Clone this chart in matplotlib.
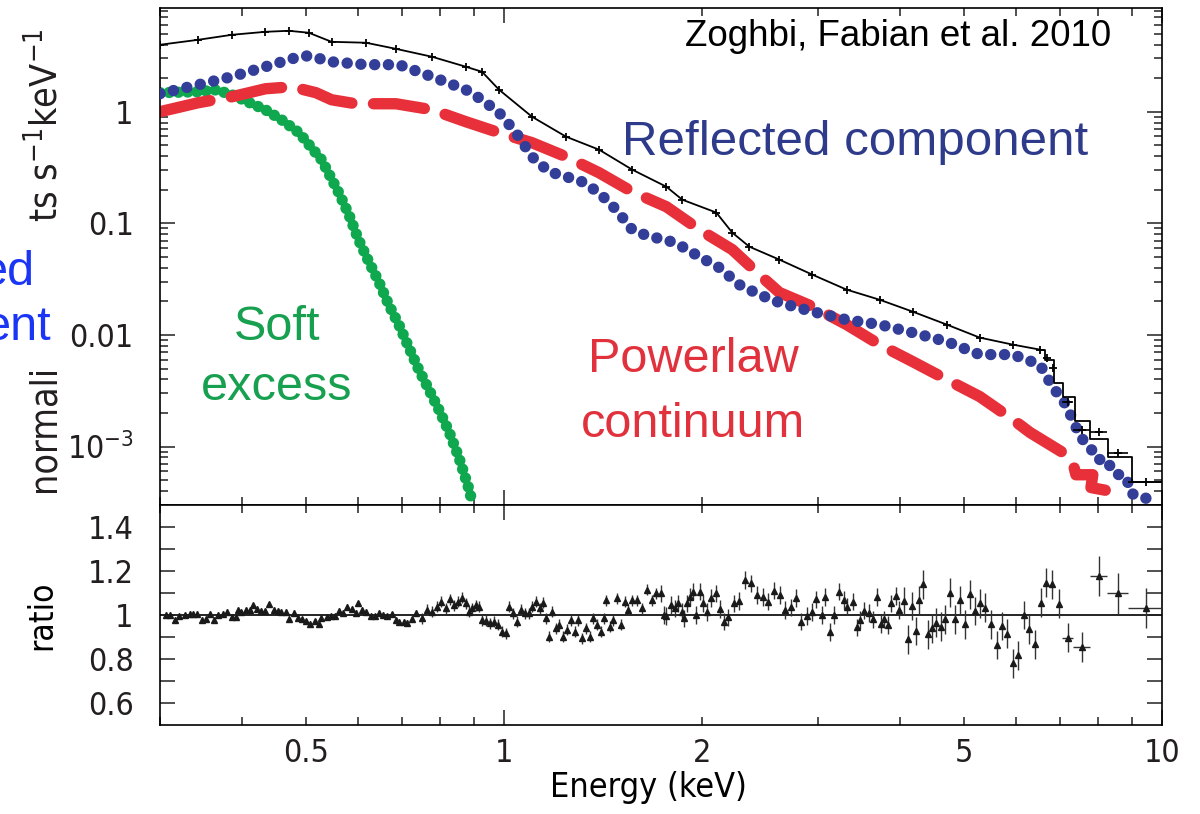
import matplotlib
matplotlib.use("Agg")
from matplotlib import pyplot as plt
from matplotlib.patches import Rectangle
from matplotlib.ticker import FixedLocator, FuncFormatter

plt.rcParams["font.family"] = ["Liberation Sans Narrow", "DejaVu Sans"]
plt.rcParams["font.stretch"] = "condensed"
plt.rcParams["mathtext.default"] = "regular"

# ---- top panel: model components (keV, counts/s/keV) ----
soft_energy = [0.30, 0.343, 0.365, 0.386, 0.434, 0.459, 0.488, 0.528, 0.561, 0.581,
               0.601, 0.623, 0.645, 0.668, 0.692, 0.717, 0.742, 0.769, 0.796, 0.825,
               0.854, 0.885, 0.894]
soft_counts = [1.48, 1.51, 1.57, 1.42, 1.04, 0.848, 0.649, 0.372, 0.188, 0.120,
               0.0715, 0.0454, 0.0301, 0.0187, 0.0124, 0.0077, 0.0049, 0.00324, 0.00215, 0.00136,
               0.000799, 0.000413, 0.000323]

refl_energy = [0.30, 0.343, 0.386, 0.434, 0.488, 0.505, 0.547, 0.617, 0.692, 0.777,
               0.875, 0.926, 0.983, 1.043, 1.103, 1.171, 1.243, 1.314, 1.395, 1.480,
               1.566, 1.663, 1.765, 1.866, 1.981, 2.125, 2.279, 2.444, 2.622, 2.943,
               3.316, 3.723, 4.178, 4.708, 5.284, 5.933, 6.522, 6.683, 6.825, 7.069,
               7.321, 7.503, 7.771, 7.963, 8.249, 8.423, 8.845, 8.939, 9.258, 9.826]
refl_counts = [1.45, 1.745, 2.06, 2.53, 3.11, 3.17, 2.80, 2.64, 2.64, 2.06,
               1.574, 1.28, 0.98, 0.649, 0.395, 0.290, 0.262, 0.236, 0.188, 0.133,
               0.0879, 0.076, 0.0715, 0.0618, 0.0503, 0.0401, 0.0282, 0.023, 0.0195, 0.0162,
               0.0137, 0.0124, 0.0105, 0.00873, 0.00668, 0.00668, 0.00543, 0.00425, 0.00338, 0.00264,
               0.00175, 0.00123, 0.00100, 0.000767, 0.000767, 0.000586, 0.000529, 0.000388, 0.00035, 0.000336]

pl_energy = [0.30, 0.343, 0.386, 0.434, 0.476, 0.518, 0.547, 0.595, 0.685, 0.777,
             0.875, 0.983, 1.103, 1.243, 1.395, 1.566, 1.765, 1.981, 2.223, 2.444,
             2.622, 2.943, 3.316, 3.723, 4.178, 4.708, 5.284, 5.933, 6.30, 7.069,
             7.32, 7.40, 7.85, 7.80, 8.33]
pl_counts = [1.0, 1.204, 1.362, 1.606, 1.674, 1.48, 1.28, 1.179, 1.179, 1.042,
             0.814, 0.649, 0.528, 0.395, 0.284, 0.192, 0.141, 0.0879, 0.0582, 0.0347,
             0.024, 0.018, 0.0124, 0.0082, 0.00578, 0.00399, 0.00281, 0.00175, 0.00134, 0.000885,
             0.00072, 0.00056, 0.00056, 0.00043, 0.00040]

# total: data points and folded model
tot_energy = [0.30, 0.343, 0.386, 0.434, 0.471, 0.505, 0.547, 0.617, 0.685, 0.777,
              0.875, 0.926, 0.983, 1.103, 1.243, 1.395, 1.566, 1.765, 1.866, 2.102,
              2.223, 2.360, 2.622, 2.943, 3.316, 3.723, 4.178, 4.708, 5.284, 5.933,
              6.522, 6.683, 6.825]
tot_counts = [3.98, 4.41, 4.89, 5.2, 5.31, 5.10, 4.23, 4.15, 3.66, 3.11,
              2.53, 2.28, 1.574, 0.902, 0.597, 0.457, 0.303, 0.213, 0.163, 0.125,
              0.0826, 0.0618, 0.0473, 0.0347, 0.0255, 0.0207, 0.0162, 0.0124, 0.00948, 0.0082,
              0.0074, 0.00628, 0.00511]

# model: smooth below 6.5 keV, wide steps above
mod_energy = [0.30, 0.343, 0.386, 0.434, 0.471, 0.505, 0.547, 0.617, 0.685, 0.777,
              0.875, 0.926, 0.983, 1.103, 1.243, 1.395, 1.566, 1.765, 1.866, 2.102,
              2.223, 2.360, 2.622, 2.943, 3.316, 3.723, 4.178, 4.708, 5.284, 5.933,
              6.522]
mod_counts = [3.98, 4.41, 4.89, 5.2, 5.31, 5.10, 4.23, 4.15, 3.66, 3.11,
              2.53, 2.28, 1.574, 0.902, 0.597, 0.457, 0.303, 0.213, 0.163, 0.125,
              0.0826, 0.0618, 0.0473, 0.0347, 0.0255, 0.0207, 0.0162, 0.0124, 0.00948, 0.0082,
              0.0074]
step_energy = [6.522, 6.75, 6.95, 7.2, 7.55, 8.0, 8.55, 9.45, 10.0]
step_counts = [0.0074, 0.0060, 0.00375, 0.00281, 0.00168, 0.00116, 0.000815, 0.000487, 0.000487]

# wide high-energy bins
tail_energy = [7.19, 7.55, 8.02, 8.57, 9.45]
tail_halfwidth = [0.13, 0.23, 0.24, 0.32, 0.56]
tail_counts = [0.0025, 0.00142, 0.00134, 0.000885, 0.000487]
tail_ratio = [0.897, 0.855, 1.177, 1.098, 1.033]
tail_ratio_err = [0.065, 0.07, 0.092, 0.095, 0.09]

# ---- bottom panel: data/model ratio, in four stretches ----
ratio_e1 = [0.306, 0.311, 0.316, 0.321, 0.327, 0.333, 0.337, 0.342, 0.347, 0.353,
            0.358, 0.363, 0.368, 0.374, 0.379, 0.386, 0.391, 0.394, 0.399, 0.405,
            0.411, 0.415, 0.421, 0.427, 0.434, 0.440, 0.447, 0.453, 0.459, 0.466,
            0.472, 0.479, 0.486, 0.493, 0.501, 0.508, 0.517, 0.523, 0.528, 0.538,
            0.545, 0.553, 0.561, 0.569, 0.577, 0.587, 0.595, 0.600, 0.608, 0.617,
            0.628, 0.636, 0.645, 0.654, 0.664, 0.675, 0.685, 0.692, 0.704, 0.712,
            0.724, 0.735]
ratio_v1 = [1.000, 1.000, 0.977, 0.994, 1.000, 1.006, 1.006, 1.006, 0.977, 0.983,
            1.006, 0.977, 1.000, 1.006, 1.014, 0.990, 0.989, 1.023, 1.014, 1.023,
            1.023, 1.044, 1.029, 1.018, 1.018, 1.048, 1.024, 1.018, 1.014, 1.014,
            0.983, 1.009, 0.986, 0.980, 0.972, 0.961, 0.972, 0.958, 0.986, 0.989,
            0.994, 0.994, 1.018, 1.009, 1.038, 1.029, 1.009, 1.053, 1.023, 1.014,
            0.994, 0.994, 1.009, 1.000, 0.994, 1.003, 0.977, 0.968, 0.968, 0.964,
            0.983, 1.009]

ratio_e2 = [0.750, 0.763, 0.777, 0.791, 0.802, 0.816, 0.828, 0.839, 0.851, 0.863,
            0.875, 0.885, 0.894, 0.907, 0.916, 0.926, 0.939, 0.952, 0.966, 0.979,
            0.993, 1.007, 1.018, 1.032, 1.047, 1.061, 1.076, 1.092, 1.103, 1.119,
            1.134, 1.146, 1.159, 1.171, 1.183, 1.200, 1.212, 1.230, 1.247, 1.265,
            1.283, 1.296, 1.314, 1.333, 1.352, 1.366, 1.385, 1.405, 1.420, 1.430,
            1.450, 1.465, 1.486, 1.507, 1.528, 1.544, 1.566, 1.594, 1.622, 1.651,
            1.680, 1.704]
ratio_v2 = [0.985, 1.023, 1.015, 1.038, 1.061, 1.030, 1.071, 1.045, 1.061, 1.079,
            1.053, 1.015, 1.030, 1.045, 1.038, 0.977, 0.974, 0.962, 0.970, 0.955,
            0.924, 0.917, 1.038, 1.008, 0.970, 1.023, 1.008, 1.008, 1.038, 1.061,
            1.030, 1.056, 0.985, 0.902, 1.015, 0.939, 0.955, 0.902, 0.932, 0.977,
            0.924, 0.977, 0.894, 0.939, 0.902, 0.985, 0.955, 0.924, 0.985, 1.068,
            0.947, 0.977, 1.076, 0.955, 1.061, 1.023, 1.068, 1.068, 1.030, 1.114,
            1.068, 1.098]

ratio_e3 = [1.734, 1.752, 1.765, 1.796, 1.821, 1.840, 1.866, 1.879, 1.899, 1.919,
            1.940, 1.960, 1.988, 2.009, 2.037, 2.066, 2.102, 2.132, 2.162, 2.193,
            2.239, 2.279, 2.327, 2.377, 2.427, 2.479, 2.523, 2.576, 2.631, 2.677,
            2.734, 2.783, 2.832, 2.883, 2.934, 2.985, 3.038, 3.080, 3.134, 3.178,
            3.234, 3.281, 3.327, 3.386, 3.434, 3.482, 3.531, 3.581, 3.632, 3.683,
            3.735, 3.787, 3.828, 3.881, 3.937, 3.979]
ratio_v3 = [1.098, 1.000, 0.995, 1.045, 1.030, 1.053, 1.015, 0.985, 1.053, 1.083,
            1.106, 1.000, 1.106, 1.053, 1.015, 1.076, 1.098, 1.026, 0.970, 0.989,
            1.053, 1.065, 1.159, 1.144, 1.091, 1.083, 1.061, 1.111, 1.091, 1.023,
            1.035, 1.076, 0.970, 0.995, 1.015, 1.071, 1.000, 1.083, 0.924, 1.000,
            1.106, 1.068, 1.038, 1.061, 0.944, 0.977, 1.020, 1.008, 0.980, 1.083,
            0.958, 0.980, 0.955, 1.053, 1.086, 1.023]

ratio_e4 = [4.049, 4.106, 4.165, 4.223, 4.267, 4.327, 4.404, 4.466, 4.529, 4.609,
            4.674, 4.756, 4.840, 4.926, 5.013, 5.102, 5.190, 5.284, 5.377, 5.492,
            5.609, 5.708, 5.808, 5.933, 6.038, 6.166, 6.275, 6.408, 6.545, 6.660,
            6.802, 6.970]
ratio_v4 = [1.064, 0.889, 1.041, 0.927, 1.068, 1.139, 0.912, 0.939, 0.965, 0.947,
            0.980, 1.102, 0.980, 1.068, 0.958, 1.094, 1.018, 1.053, 1.033, 0.958,
            0.864, 0.950, 0.915, 0.780, 0.817, 1.000, 0.935, 0.867, 1.056, 1.147,
            1.139, 1.052]
ratio_err = [0.012, 0.025, 0.04, 0.065]

ytick_text = {1.0: "1", 0.1: "0.1", 0.01: "0.01", 0.001: "10$^{-3}$"}
xtick_text = {0.5: "0.5", 1.0: "1", 2.0: "2", 5.0: "5", 10.0: "10"}

GREEN = "#10a84f"
RED = "#e8303a"
BLUE = "#323e98"

fig = plt.figure(figsize=(12, 8.14), dpi=100)
ax = fig.add_axes([0.1333, 0.3796, 0.835, 0.6106])
axr = fig.add_axes([0.1333, 0.1093, 0.835, 0.2703], sharex=ax)

ax.plot(soft_energy, soft_counts, color=GREEN, lw=8.2, ls=(0, (0.01, 0.8)),
        dash_capstyle="round", zorder=2)
ax.plot(pl_energy, pl_counts, color=RED, lw=8.2, ls=(0, (4.5, 1.9)),
        dash_capstyle="round", zorder=2)
ax.plot(refl_energy, refl_counts, color=BLUE, lw=8.2, ls=(0, (0.01, 1.2)),
        dash_capstyle="round", zorder=3)
ax.plot(mod_energy, mod_counts, color="k", lw=1.3, zorder=4)
ax.plot(step_energy, step_counts, color="k", lw=1.3, drawstyle="steps-mid", zorder=4)
ax.plot(tot_energy, tot_counts, "+", color="k", ms=6, mew=1.3, zorder=4)
ax.errorbar(tail_energy, tail_counts, xerr=tail_halfwidth, fmt="+", color="k",
            ms=6, mew=1.3, elinewidth=1.2, zorder=4)

ax.set_xscale("log")
ax.set_yscale("log")
ax.set_xlim(0.3, 10)
ax.set_ylim(3.0e-4, 8.5)

# ratio panel
axr.axhline(1, color="k", lw=1.2, zorder=1)
for e, v, err in zip([ratio_e1, ratio_e2, ratio_e3, ratio_e4],
                     [ratio_v1, ratio_v2, ratio_v3, ratio_v4], ratio_err):
    axr.errorbar(e, v, yerr=err, fmt="^", ms=4, color="#1a1a1a",
                 ecolor="#333333", elinewidth=1.0, capsize=0, zorder=3)
axr.errorbar(tail_energy, tail_ratio, xerr=tail_halfwidth, yerr=tail_ratio_err,
             fmt="^", ms=4, color="#1a1a1a", ecolor="#333333", elinewidth=1.0,
             capsize=0, zorder=3)
axr.set_ylim(0.5, 1.5)

# ticks
ax.yaxis.set_major_locator(FixedLocator([1e-3, 1e-2, 0.1, 1]))
ax.yaxis.set_minor_locator(FixedLocator([m * 10.0 ** k for k in range(-4, 1)
                                         for m in range(2, 10)]))
ax.yaxis.set_major_formatter(FuncFormatter(lambda v, p: ytick_text.get(round(v, 6), "")))
ax.yaxis.set_minor_formatter(FuncFormatter(lambda v, p: ""))

ax.xaxis.set_major_locator(FixedLocator([1, 10]))
ax.xaxis.set_minor_locator(FixedLocator([0.3, 0.4, 0.5, 0.6, 0.7, 0.8, 0.9,
                                         2, 3, 4, 5, 6, 7, 8, 9]))
ax.xaxis.set_major_formatter(FuncFormatter(lambda v, p: xtick_text.get(round(v, 3), "")))
ax.xaxis.set_minor_formatter(FuncFormatter(lambda v, p: xtick_text.get(round(v, 3), "")))

axr.yaxis.set_major_locator(FixedLocator([0.6, 0.7, 0.8, 0.9, 1.0, 1.1, 1.2, 1.3, 1.4]))
axr.yaxis.set_major_formatter(FuncFormatter(
    lambda v, p: ("%g" % round(v, 1)) if round(v * 10) % 2 == 0 else ""))

for a in (ax, axr):
    a.tick_params(which="both", direction="in", top=True, right=True,
                  colors="#231f20", labelsize=23, width=1.1)
    a.tick_params(which="major", length=11)
    a.tick_params(which="minor", length=5.5)
    a.tick_params(axis="y", which="both", pad=19)
    a.tick_params(axis="x", which="both", pad=9)
    for s in a.spines.values():
        s.set_linewidth(1.2)
ax.tick_params(labelbottom=False)

axr.set_ylabel("ratio", fontsize=24)
axr.yaxis.set_label_coords(-0.102, 0.5)
axr.set_xlabel("Energy (keV)", fontsize=24.5)
axr.xaxis.set_label_coords(0.488, -0.21)

# top y label: only its two ends show beside the clipped blue label
fig.text(45 / 1200, 1 - 492 / 814, "normali", rotation=90, ha="center",
         va="bottom", fontsize=27, color="#231f20")
fig.text(45 / 1200, 1 - 222 / 814, "ts s$^{-1}$keV$^{-1}$", rotation=90,
         ha="center", va="bottom", fontsize=27, color="#231f20")
fig.text(35 / 1200, 1 - 285 / 814, "ed", ha="right", va="baseline",
         fontsize=35, family="Liberation Sans", stretch="normal", color="#1a35f5")
fig.text(52 / 1200, 1 - 340 / 814, "ent", ha="right", va="baseline",
         fontsize=35, family="Liberation Sans", stretch="normal", color="#1a35f5")

# annotations inside the top panel
ann = dict(family="Liberation Sans", stretch="normal", transform=ax.transAxes,
           ha="center", va="baseline")
ax.text(0.7365, 0.9235, "Zoghbi, Fabian et al. 2010", fontsize=26.5, color="k", **ann)
ax.text(0.6936, 0.7042, "Reflected component", fontsize=35.5, color="#2e3a8a", **ann)
ax.text(0.1168, 0.3320, "Soft", fontsize=35, color="#16a04f", **ann)
ax.text(0.1168, 0.2113, "excess", fontsize=35, color="#16a04f", **ann)
ax.text(0.5319, 0.2676, "Powerlaw", fontsize=35, color="#e0313c", **ann)
ax.text(0.5319, 0.1368, "continuum", fontsize=35, color="#e0313c", **ann)

fig.savefig("out.png", dpi=100)
